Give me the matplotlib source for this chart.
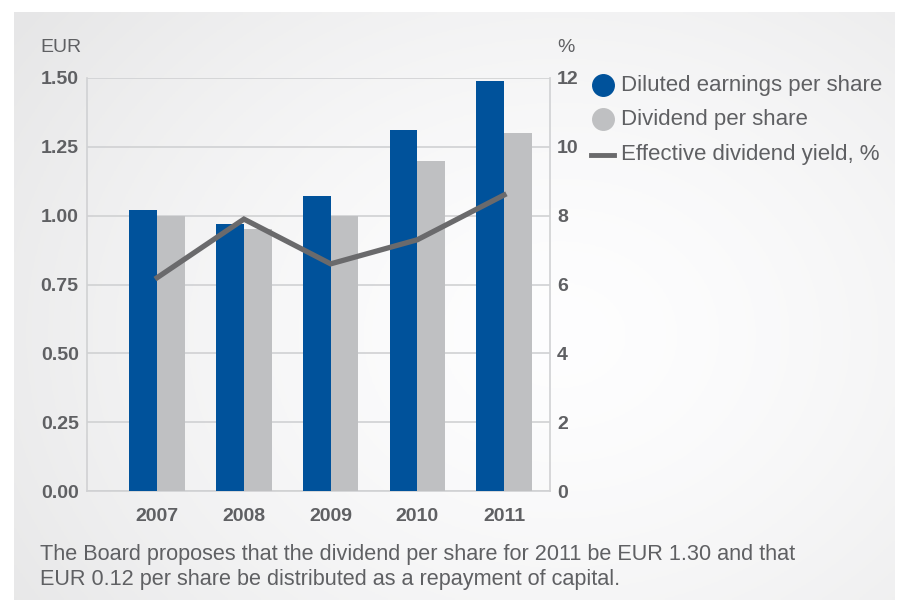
import matplotlib.pyplot as plt
import numpy as np

years = ['2007', '2008', '2009', '2010', '2011']
eps = [1.02, 0.97, 1.07, 1.31, 1.49]
dividend = [1.00, 0.95, 1.00, 1.20, 1.30]
div_yield = [6.2, 7.9, 6.6, 7.3, 8.6]

blue = '#00529b'
light = '#bfc0c2'
dark = '#6a6a6c'
txt = '#5f6063'
grid_c = '#d0d1d3'

plt.rcParams['font.family'] = ['Liberation Sans', 'DejaVu Sans']

fig = plt.figure(figsize=(9.06, 6.10), dpi=100)
fig.patch.set_facecolor('white')

# background panel with a soft radial gradient
bg = fig.add_axes([14 / 906, 10 / 610, 881 / 906, 588 / 610])
gx, gy = np.meshgrid(np.linspace(0, 1, 300), np.linspace(0, 1, 200))
r = np.sqrt(((gx - 0.62) / 0.75) ** 2 + ((gy - 0.55) / 0.9) ** 2)
shade = 0.995 - 0.09 * np.clip(r, 0, 1) ** 1.5
bg.imshow(np.dstack([shade, shade, shade + 0.003]).clip(0, 1), aspect='auto', extent=(0, 1, 0, 1))
bg.axis('off')

ax = fig.add_axes([87 / 906, 119 / 610, 463 / 906, 413 / 610])
ax.patch.set_alpha(0)
x = np.arange(len(years))
w = 0.32
ax.bar(x - w / 2, eps, w, color=blue, zorder=3)
ax.bar(x + w / 2, dividend, w, color=light, zorder=3)
ax.set_xlim(-0.81, 4.53)
ax.set_ylim(0, 1.5)
ax.set_yticks([0, 0.25, 0.5, 0.75, 1.0, 1.25, 1.5])
ax.set_yticklabels(['0.00', '0.25', '0.50', '0.75', '1.00', '1.25', '1.50'])
ax.set_xticks(x)
ax.set_xticklabels(years)
ax.grid(axis='y', color=grid_c, linewidth=1.2, zorder=0)
ax.tick_params(length=0, colors=txt, labelsize=14)
ax.tick_params(axis='y', pad=6)
ax.tick_params(axis='x', pad=12)
for lab in ax.get_xticklabels() + ax.get_yticklabels():
    lab.set_fontweight('bold')
for s in ['left', 'bottom', 'right']:
    ax.spines[s].set_color(grid_c)
    ax.spines[s].set_linewidth(1.2)
ax.spines['top'].set_visible(False)

ax2 = ax.twinx()
ax2.plot(x, div_yield, color=dark, linewidth=3.8, solid_joinstyle='miter', zorder=4)
ax2.set_ylim(0, 12)
ax2.set_yticks([0, 2, 4, 6, 8, 10, 12])
ax2.tick_params(length=0, colors=txt, labelsize=14, pad=5)
for lab in ax2.get_yticklabels():
    lab.set_fontweight('bold')
for s in ['left', 'bottom', 'right', 'top']:
    ax2.spines[s].set_visible(False)

fig.text(40 / 906, 1 - 48 / 610, 'EUR', fontsize=14, color=txt, va='center')
fig.text(557 / 906, 1 - 48 / 610, '%', fontsize=14, color=txt, va='center')

# legend
items = [('Diluted earnings per share', blue, 'dot', 85),
         ('Dividend per share', light, 'dot', 119),
         ('Effective dividend yield, %', dark, 'line', 155)]
for label, c, kind, ypx in items:
    yy = 1 - ypx / 610
    if kind == 'dot':
        fig.lines.append(plt.Line2D([603 / 906], [yy], marker='o', markersize=15.5,
                                    color=c, transform=fig.transFigure))
    else:
        fig.lines.append(plt.Line2D([591 / 906, 614 / 906], [yy, yy], linewidth=3.5,
                                    color=c, transform=fig.transFigure))
    fig.text(621 / 906, yy, label, fontsize=16, color=txt, va='center')

caption = ('The Board proposes that the dividend per share for 2011 be EUR 1.30 and that\n'
           'EUR 0.12 per share be distributed as a repayment of capital.')
fig.text(40 / 906, 1 - 567 / 610, caption, fontsize=15.6, color=txt, va='center',
         linespacing=1.2)

fig.savefig('out.png', dpi=100)
